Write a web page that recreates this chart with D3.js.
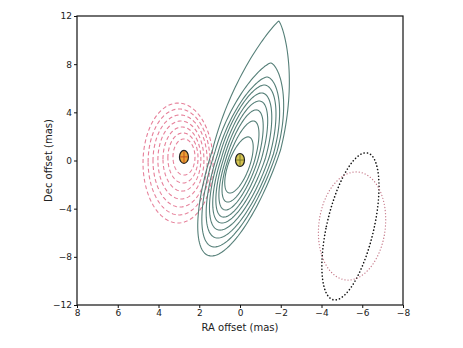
<!DOCTYPE html>
<html>
<head>
<meta charset="utf-8">
<script src="https://cdn.jsdelivr.net/npm/d3@7"></script>
<style>
  body { margin: 0; background: #fff; }
  svg { display: block; font-family: "DejaVu Sans", sans-serif; }
</style>
</head>
<body>
<div id="chart1"></div>
<script>

// axis ticks (mas)
const xTicks = [8, 6, 4, 2, 0, -2, -4, -6, -8];
const yTicks = [12, 8, 4, 0, -4, -8, -12];

// green (solid) contours, outer to inner: centre, half width, half heights up/down, shear up/down, tip sharpness
const greenRa   = [-0.32, -0.29, -0.27, -0.22, -0.17, -0.12, -0.07, -0.02, 0.05];
const greenDec  = [0.87, 0.71, 0.54, 0.37, 0.21, 0.12, -0.04, -0.21, -0.37];
const greenB    = [1.67, 1.52, 1.37, 1.23, 1.08, 0.93, 0.79, 0.66, 0.54];
const greenAUp  = [10.71, 7.39, 6.40, 5.90, 5.40, 4.82, 4.24, 3.49, 2.33];
const greenADn  = [8.80, 7.89, 6.98, 6.15, 5.40, 4.82, 4.07, 3.24, 2.33];
const greenSUp  = [0.148, 0.165, 0.165, 0.165, 0.165, 0.17, 0.17, 0.18, 0.19];
const greenSDn  = [0.195, 0.195, 0.195, 0.195, 0.195, 0.19, 0.19, 0.19, 0.19];
const greenTip  = [1.7, 1.4, 1.25, 1.1, 1.05, 1, 1, 1, 1];

// pink (dashed) contours, outer to inner
const pinkRa  = [3.04, 2.99, 2.94, 2.90, 2.85, 2.80, 2.75];
const pinkDec = [-0.21, -0.12, -0.04, 0.04, 0.12, 0.21, 0.29];
const pinkB   = [1.72, 1.52, 1.33, 1.13, 0.93, 0.74, 0.54];
const pinkA   = [4.98, 4.40, 3.82, 3.24, 2.66, 2.08, 1.50];

// restoring beams (dotted ellipses): black, pink
const beamRa  = [-5.42, -5.50];
const beamDec = [-5.47, -5.44];
const beamB   = [1.18, 1.64];
const beamA   = [6.11, 4.49];
const beamS   = [0.124, 0.044];

// peak positions
const peakRa  = [2.75, 0.0];
const peakDec = [0.30, 0.04];

const width = 463;
const height = 348;
const margin = {top: 16, right: 60, bottom: 43, left: 77};
const w = width - margin.left - margin.right;
const h = height - margin.top - margin.bottom;

const svg = d3.select("#chart1").append("svg")
    .attr("width", width)
    .attr("height", height);

const g = svg.append("g")
    .attr("transform", "translate(" + margin.left + "," + margin.top + ")");

// RA increases to the left
const x = d3.scaleLinear().domain([8, -8]).range([0, w]);
const y = d3.scaleLinear().domain([-12, 12]).range([h, 0]);

// outline of a (sheared) ellipse, in mas
function outline(c) {
  const n = 160;
  return d3.range(n).map(i => {
    const t = 2 * Math.PI * i / n;
    const st = Math.sin(t), ct = Math.cos(t);
    const up = st >= 0;
    const p = up ? c.tip : 1;
    const u = c.b * Math.sign(ct) * Math.pow(Math.abs(ct), p);
    const v = (up ? c.aUp : c.aDn) * st;
    return [c.ra + u - (up ? c.sUp : c.sDn) * v, c.dec + v];
  });
}

const line = d3.line()
    .x(d => x(d[0]))
    .y(d => y(d[1]))
    .curve(d3.curveLinearClosed);

g.append("defs").append("clipPath").attr("id", "clip")
  .append("rect").attr("width", w).attr("height", h);

const plot = g.append("g").attr("clip-path", "url(#clip)");

// pink dashed contours
plot.append("g").selectAll("path")
  .data(pinkRa.map((ra, i) => ({ra: ra, dec: pinkDec[i], b: pinkB[i], aUp: pinkA[i], aDn: pinkA[i], sUp: 0, sDn: 0, tip: 1})))
  .join("path")
    .attr("d", d => line(outline(d)))
    .attr("fill", "none")
    .attr("stroke", "#e6809a")
    .attr("stroke-width", 1.1)
    .attr("stroke-dasharray", "4,2.6");

// green contours
plot.append("g").selectAll("path")
  .data(greenRa.map((ra, i) => ({ra: ra, dec: greenDec[i], b: greenB[i], aUp: greenAUp[i], aDn: greenADn[i],
        sUp: greenSUp[i], sDn: greenSDn[i], tip: greenTip[i]})))
  .join("path")
    .attr("d", d => line(outline(d)))
    .attr("fill", "none")
    .attr("stroke", "#557f78")
    .attr("stroke-width", 1.1);

// beams
const beamColor = ["#111111", "#c77c8c"];
plot.append("g").selectAll("path")
  .data(beamRa.map((ra, i) => ({ra: ra, dec: beamDec[i], b: beamB[i], aUp: beamA[i], aDn: beamA[i], sUp: beamS[i], sDn: beamS[i], tip: 1})))
  .join("path")
    .attr("d", d => line(outline(d)))
    .attr("fill", "none")
    .attr("stroke", (d, i) => beamColor[i])
    .attr("stroke-width", (d, i) => i == 0 ? 1.6 : 1.3)
    .attr("stroke-linecap", "round")
    .attr("stroke-dasharray", (d, i) => i == 0 ? "0.1,3.3" : "0.1,3");

// peak markers
const peakFill = ["#eca235", "#d6c451"];
const peakCross = ["#c0541f", "#7a7a2a"];
const peaks = plot.append("g").selectAll("g")
  .data(peakRa.map((ra, i) => ({ra: ra, dec: peakDec[i], i: i})))
  .join("g")
    .attr("transform", d => "translate(" + x(d.ra) + "," + y(d.dec) + ")");
peaks.append("ellipse")
    .attr("rx", 4.5).attr("ry", 6.5)
    .attr("fill", d => peakFill[d.i])
    .attr("stroke", "#222").attr("stroke-width", 1.2);
peaks.append("path")
    .attr("d", "M-4,0H4M0,-6V6")
    .attr("stroke", d => peakCross[d.i]).attr("stroke-width", 1);

// frame
g.append("rect")
    .attr("width", w).attr("height", h)
    .attr("fill", "none").attr("stroke", "#111").attr("stroke-width", 1.2);

// axes
const xAxis = g.append("g")
    .attr("transform", "translate(0," + h + ")")
    .call(d3.axisBottom(x).tickValues(xTicks).tickSize(3).tickSizeOuter(0).tickPadding(2));
const yAxis = g.append("g")
    .call(d3.axisLeft(y).tickValues(yTicks).tickSize(3).tickSizeOuter(0).tickPadding(2));
[xAxis, yAxis].forEach(a => {
  a.select(".domain").remove();
  a.selectAll("text").attr("font-size", 9).attr("font-family", "DejaVu Sans, sans-serif").attr("fill", "#222");
  a.selectAll("line").attr("stroke", "#111");
});

svg.append("text")
    .attr("x", margin.left + x(0)).attr("y", 331)
    .attr("text-anchor", "middle")
    .attr("font-size", 10).attr("fill", "#222")
    .text("RA offset (mas)");

svg.append("text")
    .attr("transform", "translate(52," + (margin.top + y(0)) + ") rotate(-90)")
    .attr("text-anchor", "middle")
    .attr("font-size", 10).attr("fill", "#222")
    .text("Dec offset (mas)");

</script>
</body>
</html>
